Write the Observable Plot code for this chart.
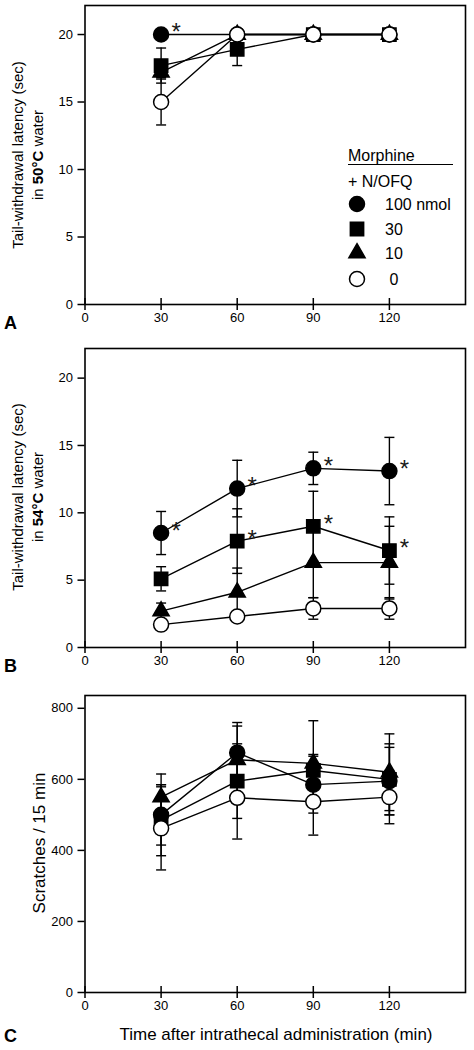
<!DOCTYPE html>
<html>
<head>
<meta charset="utf-8">
<script src="https://cdn.jsdelivr.net/npm/d3@7"></script>
<script src="https://cdn.jsdelivr.net/npm/@observablehq/plot@0.6"></script>
<style>
  html, body { margin: 0; padding: 0; background: #fff; }
  body { font-family: "Liberation Sans", Arial, sans-serif; }
  #wrap { position: relative; width: 474px; height: 1050px; overflow: hidden; }
  #wrap > svg { position: absolute; left: 0; }
</style>
</head>
<body>
<div id="wrap"></div>
<script>
// ---------------- DATA ----------------
const times = [30, 60, 90, 120];
const doses = ["100 nmol", "30", "10", "0"];
const legendLabels = ["100 nmol", "30", "10", " 0"];
const xTicks = [0, 30, 60, 90, 120];
const latencyTicks = [0, 5, 10, 15, 20];
const scratchTicks = [0, 200, 400, 600, 800];

// Panel A: tail-withdrawal latency in 50°C water (sec)
const aMean100 = [20, 20, 20, 20];
const aSem100  = [0, 0, 0, 0];
const aMean30  = [17.7, 18.9, 20, 20];
const aSem30   = [1.3, 1.2, 0, 0];
const aMean10  = [17.2, 20, 20, 20];
const aSem10   = [0.4, 0, 0, 0];
const aMean0   = [15.0, 20, 20, 20];
const aSem0    = [1.7, 0, 0, 0];
const aStar100 = [1, 0, 0, 0];
const aStar30  = [0, 0, 0, 0];

// Panel B: tail-withdrawal latency in 54°C water (sec)
const bMean100 = [8.5, 11.8, 13.3, 13.1];
const bSem100  = [1.6, 2.1, 1.2, 2.5];
const bMean30  = [5.1, 7.9, 9.0, 7.2];
const bSem30   = [0.9, 2.4, 2.6, 2.5];
const bMean10  = [2.7, 4.1, 6.3, 6.3];
const bSem10   = [0.6, 1.8, 2.6, 2.7];
const bMean0   = [1.7, 2.3, 2.9, 2.9];
const bSem0    = [0.3, 0.4, 0.8, 0.8];
const bStar100 = [1, 1, 1, 1];
const bStar30  = [0, 1, 1, 1];

// Panel C: scratches / 15 min
const cMean100 = [500, 675, 585, 595];
const cSem100  = [85, 85, 80, 95];
const cMean30  = [485, 595, 625, 600];
const cSem30   = [100, 105, 45, 100];
const cMean10  = [550, 655, 645, 620];
const cSem10   = [65, 95, 120, 108];
const cMean0   = [462, 548, 537, 550];
const cSem0    = [117, 116, 94, 75];

// ---------------- STYLE ----------------
const FONT = '"Liberation Sans", Arial, sans-serif';
const symbolOf = {"100 nmol": "circle", "30": "square", "10": "triangle", "0": "circle"};
const fillOf   = {"100 nmol": "black", "30": "black", "10": "black", "0": "white"};
const rOf      = {"100 nmol": 7.5, "30": 7.5, "10": 6, "0": 7.5};
const d3SymbolOf = {circle: d3.symbolCircle, square: d3.symbolSquare, triangle: d3.symbolTriangle};

const capSymbol = {
  draw(ctx, size) {
    const w = Math.sqrt(size / Math.PI);
    ctx.moveTo(-w, 0);
    ctx.lineTo(w, 0);
  }
};

function buildRows(means, sems, stars) {
  const rows = [];
  doses.forEach((d, k) => {
    times.forEach((t, i) => {
      rows.push({time: t, dose: d, mean: means[k][i], se: sems[k][i], star: stars[k] ? stars[k][i] : 0});
    });
  });
  return rows;
}

const wrap = document.getElementById("wrap");

function panel({rows, yDomain, yTicks, top, height, marginTop, marginBottom}) {
  const errRows = rows.filter(d => d.se > 0);
  const capRows = errRows.flatMap(d => [{time: d.time, y: d.mean - d.se}, {time: d.time, y: d.mean + d.se}]);
  const marks = [
    Plot.axisY({ticks: yTicks, tickSize: 7, tickPadding: 5, fontSize: 13, label: null, strokeWidth: 1.5}),
    Plot.axisX({ticks: xTicks, tickSize: 12, dy: -6, tickPadding: 2, fontSize: 13, label: null, strokeWidth: 1.5}),
    Plot.frame({stroke: "black", strokeWidth: 1.6}),
    Plot.ruleX(errRows, {x: "time", y1: d => d.mean - d.se, y2: d => d.mean + d.se, stroke: "black", strokeWidth: 1.4}),
    Plot.dot(capRows, {x: "time", y: "y", symbol: capSymbol, r: 5, stroke: "black", strokeWidth: 1.4, fill: "none"}),
    Plot.line(rows, {x: "time", y: "mean", z: "dose", stroke: "black", strokeWidth: 1.4})
  ];
  for (const d of doses) {
    marks.push(Plot.dot(rows.filter(r => r.dose === d), {
      x: "time", y: "mean", symbol: symbolOf[d], r: rOf[d],
      fill: fillOf[d], stroke: "black", strokeWidth: 1.5
    }));
  }
  marks.push(Plot.text(rows.filter(r => r.star), {
    x: "time", y: "mean", text: () => "*", dx: 15, dy: -2, fontSize: 24, fill: "#1a1a1a"
  }));
  const svg = Plot.plot({
    width: 474, height,
    marginLeft: 84.5, marginRight: 9, marginTop, marginBottom,
    x: {domain: [0, 150]},
    y: {domain: yDomain},
    style: {fontFamily: FONT, fontSize: "13px", color: "black", background: "transparent", overflow: "visible"},
    marks
  });
  svg.style.top = top + "px";
  wrap.appendChild(svg);
  return svg;
}

function addText(svg, x, y, parts, opts = {}) {
  const t = d3.select(svg).append("text")
    .attr("font-family", FONT)
    .attr("font-size", opts.size || 15)
    .attr("fill", "black")
    .attr("text-anchor", opts.anchor || "start")
    .attr("transform", `translate(${x},${y})` + (opts.rotate ? ` rotate(${opts.rotate})` : ""))
    .style("white-space", "pre");
  if (opts.weight) t.attr("font-weight", opts.weight);
  for (const p of parts) {
    const s = t.append("tspan").text(p.t);
    if (p.bold) s.attr("font-weight", "bold");
  }
  return t;
}

// ---------------- PANEL A ----------------
const rowsA = buildRows([aMean100, aMean30, aMean10, aMean0], [aSem100, aSem30, aSem10, aSem0], [aStar100, aStar30]);
const svgA = panel({rows: rowsA, yDomain: [0, 22.15], yTicks: latencyTicks, top: 0, height: 340, marginTop: 5, marginBottom: 36});
addText(svgA, 23, 155, [{t: "Tail-withdrawal latency (sec)"}], {rotate: -90, anchor: "middle", size: 15});
addText(svgA, 43, 155, [{t: "in "}, {t: "50°C", bold: true}, {t: " water"}], {rotate: -90, anchor: "middle", size: 15});
addText(svgA, 4, 329, [{t: "A"}], {weight: "bold", size: 18});

// legend inside panel A
{
  const g = d3.select(svgA).append("g");
  addText(svgA, 348, 161, [{t: "Morphine"}], {size: 16});
  g.append("line").attr("x1", 348).attr("x2", 453).attr("y1", 164.5).attr("y2", 164.5).attr("stroke", "black").attr("stroke-width", 1.2);
  addText(svgA, 348, 187, [{t: "+ N/OFQ"}], {size: 16});
  const ys = [204, 229, 253, 279];
  doses.forEach((d, i) => {
    const r = rOf[d];
    g.append("path")
      .attr("d", d3.symbol().type(d3SymbolOf[symbolOf[d]]).size(Math.PI * r * r)())
      .attr("transform", `translate(357,${ys[i]})`)
      .attr("fill", fillOf[d]).attr("stroke", "black").attr("stroke-width", 1.5);
    addText(svgA, 385, ys[i] + 6, [{t: legendLabels[i]}], {size: 16});
  });
}

// ---------------- PANEL B ----------------
const rowsB = buildRows([bMean100, bMean30, bMean10, bMean0], [bSem100, bSem30, bSem10, bSem0], [bStar100, bStar30]);
const svgB = panel({rows: rowsB, yDomain: [0, 22.2], yTicks: latencyTicks, top: 340, height: 345, marginTop: 8, marginBottom: 38});
addText(svgB, 23, 157, [{t: "Tail-withdrawal latency (sec)"}], {rotate: -90, anchor: "middle", size: 15});
addText(svgB, 43, 157, [{t: "in "}, {t: "54°C", bold: true}, {t: " water"}], {rotate: -90, anchor: "middle", size: 15});
addText(svgB, 4, 332, [{t: "B"}], {weight: "bold", size: 18});

// ---------------- PANEL C ----------------
const rowsC = buildRows([cMean100, cMean30, cMean10, cMean0], [cSem100, cSem30, cSem10, cSem0], []);
const svgC = panel({rows: rowsC, yDomain: [0, 836], yTicks: scratchTicks, top: 685, height: 365, marginTop: 10, marginBottom: 58});
addText(svgC, 45, 158, [{t: "Scratches / 15 min"}], {rotate: -90, anchor: "middle", size: 17});
addText(svgC, 276, 355, [{t: "Time after intrathecal administration (min)"}], {anchor: "middle", size: 17});
addText(svgC, 4, 357, [{t: "C"}], {weight: "bold", size: 18});
</script>
</body>
</html>
